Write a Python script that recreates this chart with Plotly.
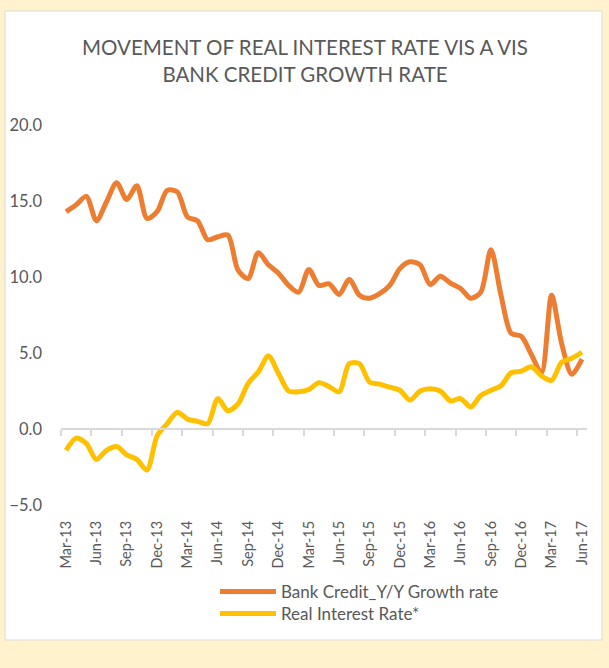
import plotly.graph_objects as go

months = ["Mar-13", "Apr-13", "May-13", "Jun-13", "Jul-13", "Aug-13", "Sep-13", "Oct-13", "Nov-13",
          "Dec-13", "Jan-14", "Feb-14", "Mar-14", "Apr-14", "May-14", "Jun-14", "Jul-14", "Aug-14",
          "Sep-14", "Oct-14", "Nov-14", "Dec-14", "Jan-15", "Feb-15", "Mar-15", "Apr-15", "May-15",
          "Jun-15", "Jul-15", "Aug-15", "Sep-15", "Oct-15", "Nov-15", "Dec-15", "Jan-16", "Feb-16",
          "Mar-16", "Apr-16", "May-16", "Jun-16", "Jul-16", "Aug-16", "Sep-16", "Oct-16", "Nov-16",
          "Dec-16", "Jan-17", "Feb-17", "Mar-17", "Apr-17", "May-17", "Jun-17"]

bank_credit = [14.3, 14.75, 15.3, 13.7, 14.95, 16.2, 15.1, 16.0, 13.85, 14.3,
               15.7, 15.6, 13.95, 13.7, 12.45, 12.65, 12.75, 10.45, 9.9, 11.6,
               10.8, 10.25, 9.45, 9.0, 10.5, 9.45, 9.55, 8.85, 9.85, 8.8,
               8.6, 8.9, 9.45, 10.55, 11.0, 10.8, 9.5, 10.05, 9.6, 9.25,
               8.6, 9.0, 11.8, 8.8, 6.3, 6.1, 4.9, 3.7, 8.8, 5.6,
               3.6, 4.6]

real_rate = [-1.4, -0.6, -0.95, -2.0, -1.4, -1.15, -1.7, -2.0, -2.7, -0.45,
             0.35, 1.1, 0.65, 0.5, 0.35, 2.0, 1.2, 1.65, 3.0, 3.75,
             4.8, 3.65, 2.5, 2.45, 2.6, 3.05, 2.8, 2.45, 4.3, 4.3,
             3.1, 2.95, 2.75, 2.55, 1.9, 2.5, 2.65, 2.5, 1.85, 2.0,
             1.45, 2.2, 2.55, 2.85, 3.7, 3.8, 4.1, 3.5, 3.2, 4.4,
             4.65, 5.05]

series_names = ["Bank Credit_Y/Y Growth rate", "Real Interest Rate*"]
series_colors = ["#ED7D31", "#FFC000"]
series_legends = ["legend", "legend2"]
series_xaxes = ["x", "x2"]

y_ticks = [-5, 0, 5, 10, 15, 20]

idx = list(range(len(months)))
label_pos = idx[::3]
label_text = months[::3]
boundary_ticks = [p - 0.5 for p in label_pos]

FONT = "Lato"
GREY = "#595959"
CREAM = "#FFF2CC"
AXIS_GREY = "#D9D9D9"

fig = go.Figure()
for name, vals, col, lg, xa in zip(series_names, [bank_credit, real_rate], series_colors,
                                    series_legends, series_xaxes):
    fig.add_trace(go.Scatter(
        x=idx, y=vals, name=name, mode="lines", legend=lg, xaxis=xa, yaxis="y",
        line=dict(color=col, width=5, shape="spline", smoothing=0.8),
        hoverinfo="x+y",
    ))

# plot area: x 61..587, y 125..505
W, H = 609, 668
L, R, T, B = 61, 22, 125, 163
pw, ph = W - L - R, H - T - B

def px2x(p):
    return (p - L) / pw

def py2y(p):
    return (H - B - p) / ph

fig.add_shape(type="rect", xref="paper", yref="paper",
              x0=px2x(5), x1=px2x(602), y0=py2y(640), y1=py2y(11),
              fillcolor="white", line=dict(color=AXIS_GREY, width=1), layer="below")

legend_common = dict(xanchor="left", yanchor="middle", orientation="v",
                     bgcolor="rgba(0,0,0,0)", borderwidth=0, itemwidth=56,
                     font=dict(family=FONT, size=17, color=GREY))

x_range = [-0.5, len(months) - 0.5]

fig.update_layout(
    width=W, height=H,
    margin=dict(l=L, r=R, t=T, b=B, autoexpand=False),
    paper_bgcolor=CREAM,
    plot_bgcolor="rgba(0,0,0,0)",
    font=dict(family=FONT, color=GREY),
    title=dict(text="MOVEMENT OF REAL INTEREST RATE VIS A VIS<br>BANK CREDIT GROWTH RATE",
               x=305 / W, xanchor="center",
               y=1 - 55 / H, yanchor="top",
               font=dict(family=FONT, size=20.5, color=GREY)),
    xaxis=dict(range=x_range, tickvals=label_pos, ticktext=label_text,
               tickangle=-90, showgrid=False, zeroline=False, showline=False, ticks="",
               automargin=False,
               tickfont=dict(family=FONT, size=14.5, color=GREY), ticklabelstandoff=12),
    xaxis2=dict(range=x_range, overlaying="x", anchor="free", position=0.2, side="bottom",
                showgrid=False, zeroline=False, showline=True, linecolor=AXIS_GREY, linewidth=1.5,
                ticks="outside", tickvals=boundary_ticks, ticklen=6, tickcolor=AXIS_GREY,
                tickwidth=1.5, showticklabels=False, automargin=False),
    yaxis=dict(range=[-5, 20], tickvals=y_ticks, tickformat=".1f", showgrid=False,
               zeroline=False, showline=False, ticks="", automargin=False,
               tickfont=dict(family=FONT, size=16.5, color=GREY), ticklabelstandoff=18),
    legend=dict(x=px2x(215), y=py2y(592), **legend_common),
    legend2=dict(x=px2x(215), y=py2y(614), **legend_common),
    showlegend=True,
)

fig.write_html(
    "out.html",
    config={"displayModeBar": False},
    post_script="document.body.style.margin='0';document.body.style.background='%s';" % CREAM,
)
